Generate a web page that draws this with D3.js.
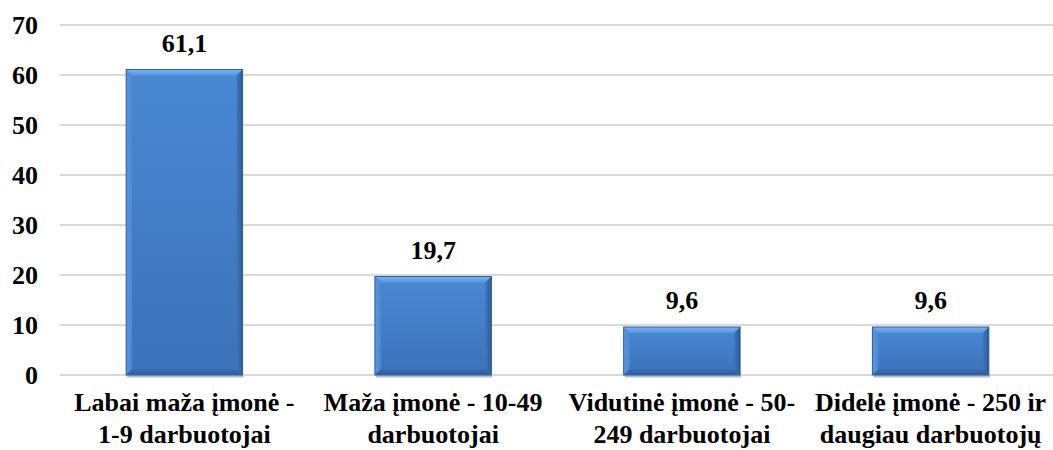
<!DOCTYPE html>
<html>
<head>
<meta charset="utf-8">
<script src="https://cdn.jsdelivr.net/npm/d3@7/dist/d3.min.js"></script>
<style>
  html, body { margin: 0; padding: 0; background: #fff; }
  svg { display: block; }
</style>
</head>
<body>
<div id="chart"></div>
<script>
// chart data
var categories = [
  ["Labai maža įmonė -", "1-9 darbuotojai"],
  ["Maža įmonė - 10-49", "darbuotojai"],
  ["Vidutinė įmonė - 50-", "249 darbuotojai"],
  ["Didelė įmonė - 250 ir", "daugiau darbuotojų"]
];
var values = [61.1, 19.7, 9.6, 9.6];
var yTicks = [0, 10, 20, 30, 40, 50, 60, 70];

var width = 1053, height = 450;
var margin = {top: 25, right: -2, bottom: 75, left: 60};

function serif(sel) {
  return sel.style("font-family", "'Liberation Serif'")
    .style("font-weight", "bold")
    .style("font-size", "26px")
    .attr("fill", "#000");
}

var svg = d3.select("#chart").append("svg")
  .attr("width", width)
  .attr("height", height);

var defs = svg.append("defs");
function grad(id, x2, y2, c1, c2) {
  var g = defs.append("linearGradient")
    .attr("id", id).attr("x1", 0).attr("y1", 0).attr("x2", x2).attr("y2", y2);
  g.append("stop").attr("offset", "0%").attr("stop-color", c1);
  g.append("stop").attr("offset", "100%").attr("stop-color", c2);
}
grad("face", 0, 1, "#4a88d4", "#3c72b9");
grad("topb", 0, 1, "#7ab3f0", "#5595e0");
grad("leftb", 1, 0, "#5b97dc", "#4a88d4");
grad("rightb", 1, 0, "#3f76bd", "#2c5c9c");
grad("botb", 0, 1, "#3a6db0", "#2f5e9c");

var x = d3.scaleBand()
  .domain(d3.range(categories.length))
  .range([margin.left, width - margin.right])
  .padding(0);

var y = d3.scaleLinear()
  .domain([0, 70])
  .range([height - margin.bottom, margin.top]);

// gridlines
svg.append("g")
  .selectAll("line")
  .data(yTicks)
  .enter().append("line")
  .attr("x1", margin.left)
  .attr("x2", width - margin.right)
  .attr("y1", function(d) { return y(d); })
  .attr("y2", function(d) { return y(d); })
  .attr("stroke", "#d9d9d9")
  .attr("stroke-width", 2);

// y axis labels
var yAxis = d3.axisLeft(y).tickValues(yTicks).tickSize(0).tickPadding(0);
var yg = svg.append("g")
  .attr("transform", "translate(" + 38 + ",0)")
  .call(yAxis);
yg.select(".domain").remove();
serif(yg.selectAll("text")).attr("dy", "0.34em");

// bars
var barW = x.bandwidth() * 0.468;
var bev = 6;
var bars = svg.append("g").selectAll("g")
  .data(values)
  .enter().append("g")
  .attr("transform", function(d, i) {
    return "translate(" + (x(i) + x.bandwidth() / 2 - barW / 2) + "," + y(d) + ")";
  });

bars.each(function(d) {
  var g = d3.select(this);
  var h = y(0) - y(d);
  var w = barW;
  // shadow
  g.append("rect")
    .attr("x", 1).attr("y", h).attr("width", w).attr("height", 2.5)
    .attr("fill", "#b8bcc6");
  g.append("rect")
    .attr("width", w).attr("height", h)
    .attr("fill", "url(#face)");
  g.append("polygon")
    .attr("points", [[0, 0], [w, 0], [w - bev, bev], [bev, bev]].join(" "))
    .attr("fill", "url(#topb)");
  g.append("polygon")
    .attr("points", [[0, 0], [bev, bev], [bev, h - bev], [0, h]].join(" "))
    .attr("fill", "url(#leftb)");
  g.append("polygon")
    .attr("points", [[w, 0], [w, h], [w - bev, h - bev], [w - bev, bev]].join(" "))
    .attr("fill", "url(#rightb)");
  g.append("polygon")
    .attr("points", [[0, h], [w, h], [w - bev, h - bev], [bev, h - bev]].join(" "))
    .attr("fill", "url(#botb)");
  g.append("rect")
    .attr("width", w).attr("height", h)
    .attr("fill", "none")
    .attr("stroke", "#2f5f9c")
    .attr("stroke-width", 1);
});

// value labels
serif(svg.append("g").selectAll("text")
  .data(values)
  .enter().append("text")
  .attr("x", function(d, i) { return x(i) + x.bandwidth() / 2; })
  .attr("y", function(d) { return y(d) - 18; })
  .attr("text-anchor", "middle")
  .text(function(d) { return d3.format(".1f")(d).replace(".", ","); }));

// category labels
var cat = serif(svg.append("g").selectAll("text")
  .data(categories)
  .enter().append("text")
  .attr("x", function(d, i) { return x(i) + x.bandwidth() / 2; })
  .attr("y", 411)
  .attr("text-anchor", "middle"));
cat.each(function(d, i) {
  var t = d3.select(this);
  d.forEach(function(line, j) {
    t.append("tspan")
      .attr("x", x(i) + x.bandwidth() / 2)
      .attr("dy", j === 0 ? 0 : 32)
      .text(line);
  });
});
</script>
</body>
</html>
